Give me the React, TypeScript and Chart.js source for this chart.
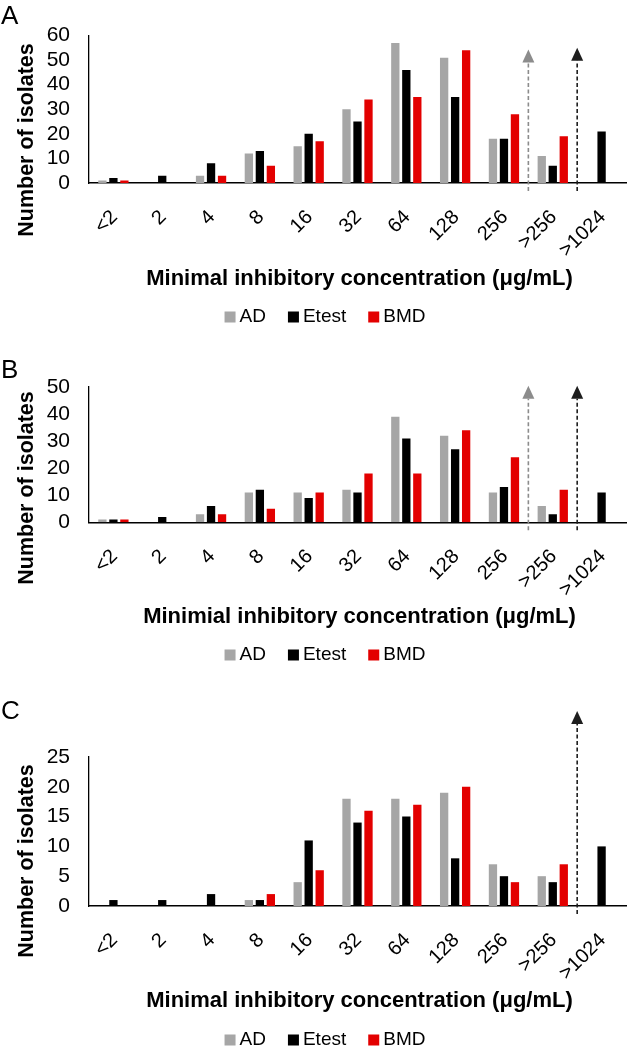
import React, { useEffect, useRef } from 'react';
import { Chart, registerables } from 'chart.js';

Chart.register(...registerables);

// ---------- data ----------
const categories = ['<2', '2', '4', '8', '16', '32', '64', '128', '256', '>256', '>1024'];
const seriesNames = ['AD', 'Etest', 'BMD'];

const adA = [1, 0, 3, 12, 15, 30, 57, 51, 18, 11, 0];
const etestA = [2, 3, 8, 13, 20, 25, 46, 35, 18, 7, 21];
const bmdA = [1, 0, 3, 7, 17, 34, 35, 54, 28, 19, 0];

const adB = [1, 0, 3, 11, 11, 12, 39, 32, 11, 6, 0];
const etestB = [1, 2, 6, 12, 9, 11, 31, 27, 13, 3, 11];
const bmdB = [1, 0, 3, 5, 11, 18, 18, 34, 24, 12, 0];

const adC = [0, 0, 0, 1, 4, 18, 18, 19, 7, 5, 0];
const etestC = [1, 1, 2, 1, 11, 14, 15, 8, 5, 4, 10];
const bmdC = [0, 0, 0, 2, 6, 16, 17, 20, 4, 7, 0];

const yTicksA = { max: 60, step: 10 };
const yTicksB = { max: 50, step: 10 };
const yTicksC = { max: 25, step: 5 };

// arrows: drawn at the boundary after category index `after`, tip at value `top`
const arrowsA = [
  { after: 8, top: 54.3, tone: 'gray' },
  { after: 9, top: 55, tone: 'black' },
];
const arrowsB = [
  { after: 8, top: 50.5, tone: 'gray' },
  { after: 9, top: 50.5, tone: 'black' },
];
const arrowsC = [{ after: 9, top: 32.7, tone: 'black' }];

const yTitle = 'Number of isolates';
const xTitleA = 'Minimal inhibitory concentration (μg/mL)';
const xTitleB = 'Minimial inhibitory concentration (μg/mL)';
const xTitleC = 'Minimal inhibitory concentration (μg/mL)';

// ---------- style ----------
const FONT = "'Liberation Sans', Arial, sans-serif";
const GRAY = '#A6A6A6';
const BLACK = '#000000';
const RED = '#E30000';
const ARROW_COLORS: Record<string, string> = { gray: '#8C8C8C', black: '#1E1E1E' };
const W = 633;
const PLOT_LEFT = 89;
const PLOT_RIGHT = 626;

type PanelCfg = {
  letter: string;
  height: number;
  top: number;
  bottom: number;
  letterTop: number;
  yTitleY: number;
  xTitleY: number;
  legendY: number;
  ad: number[];
  etest: number[];
  bmd: number[];
  ticks: { max: number; step: number };
  arrows: { after: number; top: number; tone: string }[];
  xTitle: string;
};

const panels: PanelCfg[] = [
  {
    letter: 'A', height: 330, top: 35.5, bottom: 183, letterTop: 5,
    yTitleY: 140, xTitleY: 279, legendY: 317,
    ad: adA, etest: etestA, bmd: bmdA, ticks: yTicksA, arrows: arrowsA, xTitle: xTitleA,
  },
  {
    letter: 'B', height: 350, top: 57, bottom: 192.3, letterTop: 29,
    yTitleY: 158, xTitleY: 287, legendY: 325,
    ad: adB, etest: etestB, bmd: bmdB, ticks: yTicksB, arrows: arrowsB, xTitle: xTitleB,
  },
  {
    letter: 'C', height: 367, top: 77, bottom: 226, letterTop: 20,
    yTitleY: 181, xTitleY: 321, legendY: 360,
    ad: adC, etest: etestC, bmd: bmdC, ticks: yTicksC, arrows: arrowsC, xTitle: xTitleC,
  },
];

function makeDecor(cfg: PanelCfg) {
  return {
    id: 'decor' + cfg.letter,
    afterDatasetsDraw(chart: any) {
      const { ctx, chartArea, scales } = chart;
      const xs = scales.x;
      const ys = scales.y;
      for (const a of cfg.arrows) {
        const px = (xs.getPixelForValue(a.after) + xs.getPixelForValue(a.after + 1)) / 2;
        const tipY = ys.getPixelForValue(a.top);
        const baseY = chartArea.bottom + 8;
        const headH = 13;
        const headW = 12;
        const color = ARROW_COLORS[a.tone];
        ctx.save();
        ctx.strokeStyle = color;
        ctx.lineWidth = 1.6;
        ctx.setLineDash([4, 2.5]);
        ctx.beginPath();
        ctx.moveTo(px, baseY);
        ctx.lineTo(px, tipY + headH);
        ctx.stroke();
        ctx.setLineDash([]);
        ctx.fillStyle = color;
        ctx.beginPath();
        ctx.moveTo(px, tipY);
        ctx.lineTo(px - headW / 2, tipY + headH);
        ctx.lineTo(px + headW / 2, tipY + headH);
        ctx.closePath();
        ctx.fill();
        ctx.restore();
      }
    },
    afterDraw(chart: any) {
      const { ctx, chartArea, scales } = chart;
      const xs = scales.x;
      ctx.save();
      ctx.fillStyle = '#000';
      // x category labels, rotated 45 degrees
      ctx.font = `20px ${FONT}`;
      ctx.textAlign = 'right';
      ctx.textBaseline = 'middle';
      categories.forEach((c, i) => {
        const px = xs.getPixelForValue(i);
        ctx.save();
        ctx.translate(px + 1, chartArea.bottom + 31);
        ctx.rotate(-Math.PI / 4);
        ctx.fillText(c, 0, 0);
        ctx.restore();
      });
      // panel letter
      ctx.font = `26px ${FONT}`;
      ctx.textAlign = 'left';
      ctx.textBaseline = 'alphabetic';
      ctx.fillText(cfg.letter, 1, cfg.letterTop + 26 * 0.716);
      // y title
      ctx.save();
      ctx.translate(27, cfg.yTitleY);
      ctx.rotate(-Math.PI / 2);
      ctx.font = `bold 21.5px ${FONT}`;
      ctx.textAlign = 'center';
      ctx.textBaseline = 'middle';
      ctx.fillText(yTitle, 0, 0);
      ctx.restore();
      // x title
      ctx.font = `bold 22px ${FONT}`;
      ctx.textAlign = 'center';
      ctx.textBaseline = 'middle';
      ctx.fillText(cfg.xTitle, (chartArea.left + chartArea.right) / 2 + 2, cfg.xTitleY);
      // legend
      const colors = [GRAY, BLACK, RED];
      const box = 11;
      const boxGap = 4;
      const itemGap = 22;
      ctx.font = `19px ${FONT}`;
      const widths = seriesNames.map((n) => ctx.measureText(n).width);
      const total =
        widths.reduce((s, w) => s + w, 0) +
        seriesNames.length * (box + boxGap) +
        (seriesNames.length - 1) * itemGap;
      let x = 325 - total / 2;
      ctx.textAlign = 'left';
      ctx.textBaseline = 'middle';
      seriesNames.forEach((n, i) => {
        ctx.fillStyle = colors[i];
        ctx.fillRect(x, cfg.legendY - box / 2, box, box);
        x += box + boxGap;
        ctx.fillStyle = '#000';
        ctx.fillText(n, x, cfg.legendY);
        x += widths[i] + itemGap;
      });
      ctx.restore();
    },
  };
}

function Panel({ cfg }: { cfg: PanelCfg }) {
  const ref = useRef<HTMLCanvasElement | null>(null);
  useEffect(() => {
    if (!ref.current) return;
    const chart = new Chart(ref.current, {
      type: 'bar',
      data: {
        labels: categories,
        datasets: [
          { label: seriesNames[0], data: cfg.ad, backgroundColor: GRAY },
          { label: seriesNames[1], data: cfg.etest, backgroundColor: BLACK },
          { label: seriesNames[2], data: cfg.bmd, backgroundColor: RED },
        ],
      },
      options: {
        responsive: false,
        animation: false,
        layout: { padding: { left: 0, right: W - PLOT_RIGHT, top: cfg.top, bottom: 0 } },
        datasets: { bar: { barPercentage: 0.755, categoryPercentage: 0.676 } },
        plugins: { legend: { display: false }, tooltip: { enabled: false } },
        scales: {
          x: {
            grid: { display: false },
            border: { display: true, color: '#000', width: 1.5 },
            ticks: { display: false },
            afterFit: (s: any) => {
              s.height = cfg.height - cfg.bottom;
            },
          },
          y: {
            min: 0,
            max: cfg.ticks.max,
            grid: { display: false },
            border: { display: true, color: '#000', width: 1.3 },
            ticks: {
              stepSize: cfg.ticks.step,
              autoSkip: false,
              padding: 11,
              color: '#000',
              font: { family: FONT, size: 21 },
            },
            afterFit: (s: any) => {
              s.width = PLOT_LEFT;
            },
          },
        },
      },
      plugins: [makeDecor(cfg)],
    } as any);
    return () => chart.destroy();
  }, [cfg]);
  return (
    <canvas
      ref={ref}
      width={W}
      height={cfg.height}
      style={{ display: 'block', width: W, height: cfg.height }}
    />
  );
}

export default function App() {
  return (
    <div style={{ position: 'absolute', left: 0, top: 0, width: W, background: '#fff' }}>
      {panels.map((p) => (
        <Panel key={p.letter} cfg={p} />
      ))}
    </div>
  );
}
